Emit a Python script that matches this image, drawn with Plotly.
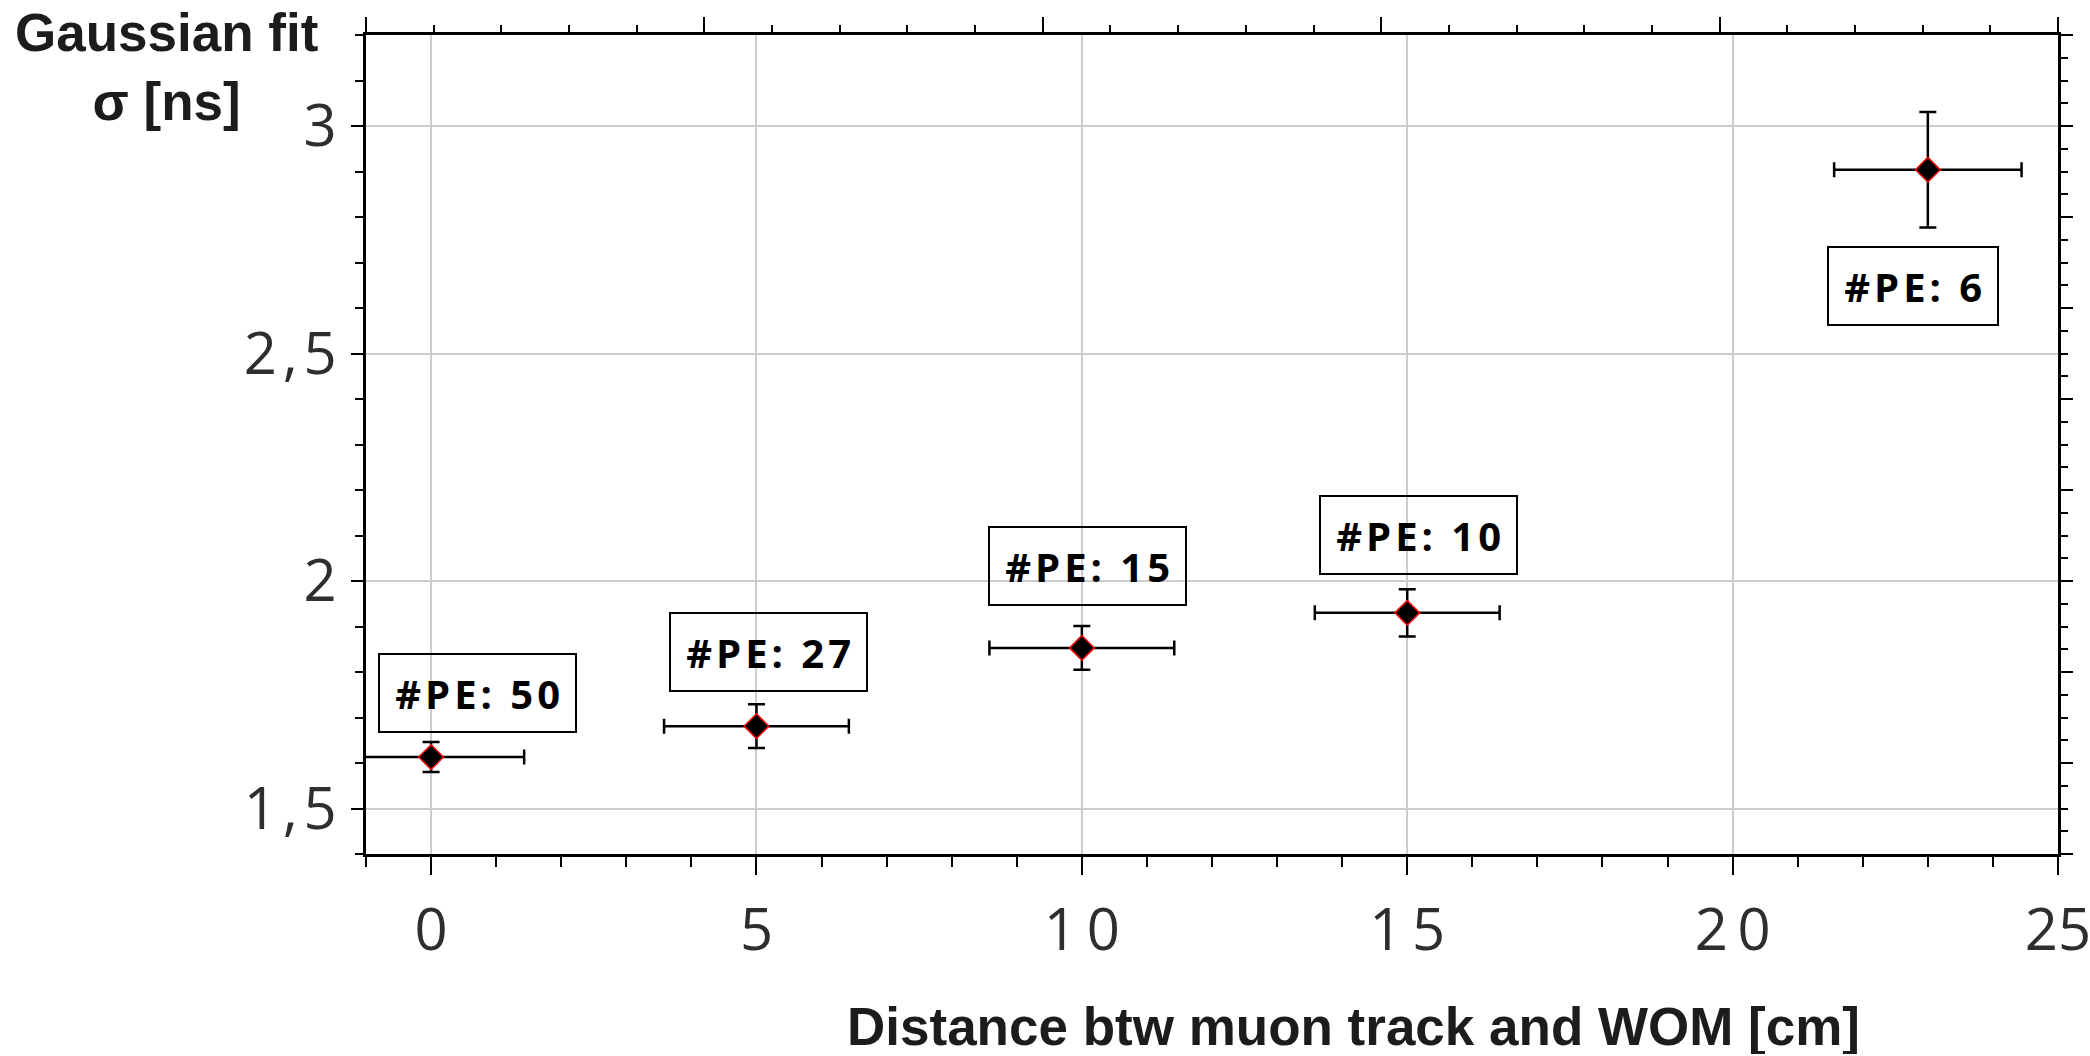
import plotly.graph_objects as go

# ---- data ----
distance_cm = [0, 5, 10, 15, 23]
sigma_ns = [1.613, 1.681, 1.853, 1.930, 2.904]
sigma_err = [0.033, 0.048, 0.048, 0.052, 0.127]
distance_err = [1.43, 1.42, 1.42, 1.42, 1.44]
n_pe = [50, 27, 15, 10, 6]

x_tickvals = [0, 5, 10, 15, 20, 25]
x_ticktext = ["0", "5", "1\u20090", "1\u20095", "2\u20090", "25"]
y_tickvals = [1.5, 2.0, 2.5, 3.0]
y_ticktext = ["1\u200a,\u200a5", "2", "2\u200a,\u200a5", "3"]

# ---- label placement (pixel offsets from each point) ----
label_dx = [46, 12, 6, 11, -15]
label_dy = [64, 74, 82, 78, -116]

HS = "\u200a"
NB = "\u202f"
def pe_text(n):
    s = "#PE: " + str(n)
    return NB + HS.join(list(s)) + NB

W, H = 2090, 1056
L, R, T, B = 366, 32, 35, 202

fig = go.Figure()

fig.add_trace(go.Scatter(
    x=distance_cm, y=sigma_ns, mode="markers",
    marker=dict(symbol="diamond", size=19, color="black",
                line=dict(color="red", width=1.5)),
    error_y=dict(type="data", array=sigma_err, visible=True,
                 color="black", thickness=2.5, width=8.5),
    error_x=dict(type="data", array=distance_err, visible=True,
                 color="black", thickness=2.5, width=7.5),
    showlegend=False, hoverinfo="skip",
))

# invisible trace to activate the mirrored top/right axes
fig.add_trace(go.Scatter(x=[None], y=[None], xaxis="x2", yaxis="y2",
                         showlegend=False, hoverinfo="skip"))

tick_font = dict(family="Open Sans", size=58, color="#2e2e2e")

fig.update_layout(
    width=W, height=H,
    margin=dict(l=L, r=R, t=T, b=B, pad=0, autoexpand=False),
    paper_bgcolor="white", plot_bgcolor="white",
    xaxis=dict(
        range=[-1, 25], tickmode="array", tickvals=x_tickvals, ticktext=x_ticktext,
        ticks="outside", ticklen=18, tickwidth=2, tickcolor="black",
        minor=dict(tickmode="linear", tick0=0, dtick=1, ticks="outside",
                   ticklen=10, tickwidth=2, tickcolor="black", showgrid=False),
        showgrid=True, gridcolor="#cdcdcd", gridwidth=2,
        showline=True, linecolor="black", linewidth=2.5,
        zeroline=False, tickfont=tick_font, ticklabelstandoff=6,
        ticklabeloverflow="allow", automargin=False,
    ),
    yaxis=dict(
        range=[1.4, 3.2], tickmode="array", tickvals=y_tickvals, ticktext=y_ticktext,
        ticks="outside", ticklen=12, tickwidth=2, tickcolor="black",
        minor=dict(tickmode="linear", tick0=1.4, dtick=0.1, ticks="outside",
                   ticklen=8, tickwidth=2, tickcolor="black", showgrid=False),
        showgrid=True, gridcolor="#cdcdcd", gridwidth=2,
        showline=True, linecolor="black", linewidth=2.5,
        zeroline=False, tickfont=tick_font, ticklabelstandoff=3,
        automargin=False,
    ),
    xaxis2=dict(
        overlaying="x", side="top", anchor="y2", range=[0, 25],
        tickmode="linear", tick0=0, dtick=5, ticks="outside", ticklen=15,
        tickwidth=2, tickcolor="black", showticklabels=False,
        minor=dict(tickmode="linear", tick0=0, dtick=1, ticks="outside",
                   ticklen=7, tickwidth=2, tickcolor="black", showgrid=False),
        showgrid=False, zeroline=False, automargin=False,
        showline=True, linecolor="black", linewidth=2.5,
    ),
    yaxis2=dict(
        overlaying="y", side="right", anchor="x2", range=[1.4, 3.2],
        tickmode="linear", tick0=1.4, dtick=0.2, ticks="outside", ticklen=12,
        tickwidth=2, tickcolor="black", showticklabels=False,
        minor=dict(tickmode="linear", tick0=1.4, dtick=0.05, ticks="outside",
                   ticklen=7, tickwidth=2, tickcolor="black", showgrid=False),
        showgrid=False, zeroline=False, automargin=False,
        showline=True, linecolor="black", linewidth=2.5,
    ),
)

# #PE labels
for xv, yv, n, dx, dy in zip(distance_cm, sigma_ns, n_pe, label_dx, label_dy):
    fig.add_annotation(
        x=xv, y=yv, xref="x", yref="y", xshift=dx, yshift=dy,
        text=pe_text(n), showarrow=False,
        font=dict(family="Open Sans", size=40, color="black", weight="bold"),
        bordercolor="black", borderwidth=2, borderpad=10,
        bgcolor="rgba(255,255,255,0)",
        height=56, align="center", valign="middle",
        xanchor="center", yanchor="middle",
    )

title_font = dict(family="Liberation Sans", size=53, color="#1c1c1c", weight="bold")

fig.add_annotation(
    x=(166 - L) / (W - L - R), y=(H - B - 67.5) / (H - T - B),
    xref="paper", yref="paper", xanchor="center", yanchor="middle",
    text="Gaussian fit<br>\u03c3 [ns]", showarrow=False, align="center",
    font=title_font,
)
fig.add_annotation(
    x=(1353 - L) / (W - L - R), y=-(1026 - (H - B)) / (H - T - B),
    xref="paper", yref="paper", xanchor="center", yanchor="middle",
    text="Distance btw muon track and WOM [cm]", showarrow=False,
    font=title_font, height=56, valign="middle",
)

fig.write_html("out.html")
